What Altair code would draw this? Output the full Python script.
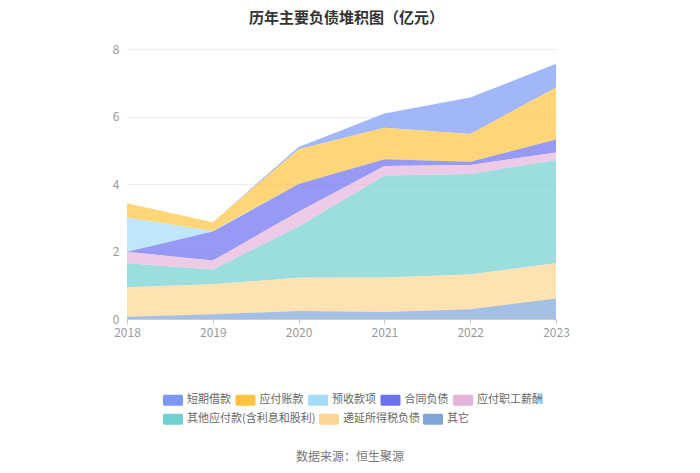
import altair as alt
import pandas as pd

years = [2018, 2019, 2020, 2021, 2022, 2023]
series = ["短期借款", "应付账款", "预收款项", "合同负债", "应付职工薪酬",
          "其他应付款(含利息和股利)", "递延所得税负债", "其它"]
colors = ["#7b98f7", "#ffc43d", "#a5dcf9", "#6b6ff0", "#e5b4da",
          "#72d0d0", "#ffd691", "#7ea4d8"]

short_loans = [0.0, 0.0, 0.07, 0.42, 1.08, 0.70]
payables = [0.42, 0.26, 1.03, 0.94, 0.82, 1.54]
advance = [1.02, 0.02, 0.0, 0.0, 0.0, 0.0]
contract = [0.0, 0.86, 0.82, 0.20, 0.10, 0.39]
salary = [0.34, 0.26, 0.44, 0.28, 0.26, 0.22]
other_pay = [0.71, 0.44, 1.52, 3.02, 2.98, 3.06]
deferred_tax = [0.87, 0.89, 0.98, 1.02, 1.03, 1.04]
others = [0.07, 0.14, 0.24, 0.21, 0.29, 0.61]

values = [short_loans, payables, advance, contract, salary, other_pay, deferred_tax, others]

rows = []
for i, (name, vals) in enumerate(zip(series, values)):
    for y, v in zip(years, vals):
        rows.append({"年份": y, "类别": name, "值": v, "order": len(series) - 1 - i})
df = pd.DataFrame(rows)

FONT = "Noto Sans CJK SC"
sym = ("M-0.85,-0.55 h1.7 a0.15,0.15 0 0 1 0.15,0.15 v0.8 a0.15,0.15 0 0 1 -0.15,0.15 "
       "h-1.7 a0.15,0.15 0 0 1 -0.15,-0.15 v-0.8 a0.15,0.15 0 0 1 0.15,-0.15 z")

x_enc = alt.X("年份:Q", scale=alt.Scale(domain=[2018, 2023], nice=False, zero=False),
              axis=alt.Axis(values=years, format="d", title=None, labelColor="#999",
                            labelFontSize=12, domainColor="#ccc", tickColor="#ccc",
                            tickSize=5, grid=False, labelPadding=3, labelFont=FONT,
                            labelFlush=False))
y_enc = alt.Y("y0:Q", scale=alt.Scale(domain=[0, 8]),
              axis=alt.Axis(values=[0, 2, 4, 6, 8], title=None, labelColor="#999",
                            labelFontSize=12, domain=False, ticks=False, gridColor="#eeeeee",
                            labelPadding=8, labelFont=FONT))


def legend(x, y, pad):
    return alt.Legend(orient="none", legendX=x, legendY=y, direction="horizontal",
                      title=None, symbolType=sym, symbolSize=400, symbolOpacity=1,
                      symbolStrokeWidth=0, labelFontSize=11, labelColor="#666",
                      labelFont=FONT, columnPadding=pad, labelOffset=4)


base = alt.Chart(df).transform_stack(
    stack="值", as_=["y0", "y1"], groupby=["年份"],
    sort=[alt.SortField("order", order="ascending")],
)

area1 = base.transform_filter(
    alt.FieldOneOfPredicate(field="类别", oneOf=series[:5])
).mark_area(opacity=0.7, interpolate="linear").encode(
    x=x_enc, y=y_enc, y2="y1:Q",
    color=alt.Color("类别:N", scale=alt.Scale(domain=series[:5], range=colors[:5]),
                    legend=legend(36, 341, 4.5)),
)

area2 = base.transform_filter(
    alt.FieldOneOfPredicate(field="类别", oneOf=series[5:])
).mark_area(opacity=0.7, interpolate="linear").encode(
    x=x_enc, y=y_enc, y2="y1:Q",
    color=alt.Color("类别:N", scale=alt.Scale(domain=series[5:], range=colors[5:]),
                    legend=legend(36, 360, 3)),
)

source = alt.Chart(pd.DataFrame({"t": ["数据来源：恒生聚源"]})).mark_text(
    fontSize=12, color="#777", font=FONT, align="center", baseline="middle"
).encode(text="t:N", x=alt.value(223), y=alt.value(408))

chart = alt.layer(area2, area1, source).resolve_scale(color="independent").properties(
    width=429, height=270,
    title=alt.TitleParams("历年主要负债堆积图（亿元）", fontSize=15, fontWeight="bold",
                          color="#333", font=FONT, offset=17, anchor="middle", dx=5),
    autosize=alt.AutoSizeParams(type="none"),
    padding={"left": 119, "top": 41, "right": 136, "bottom": 146},
).configure_view(stroke=None)

chart.save("out.html", embed_options={"renderer": "svg", "actions": False})
